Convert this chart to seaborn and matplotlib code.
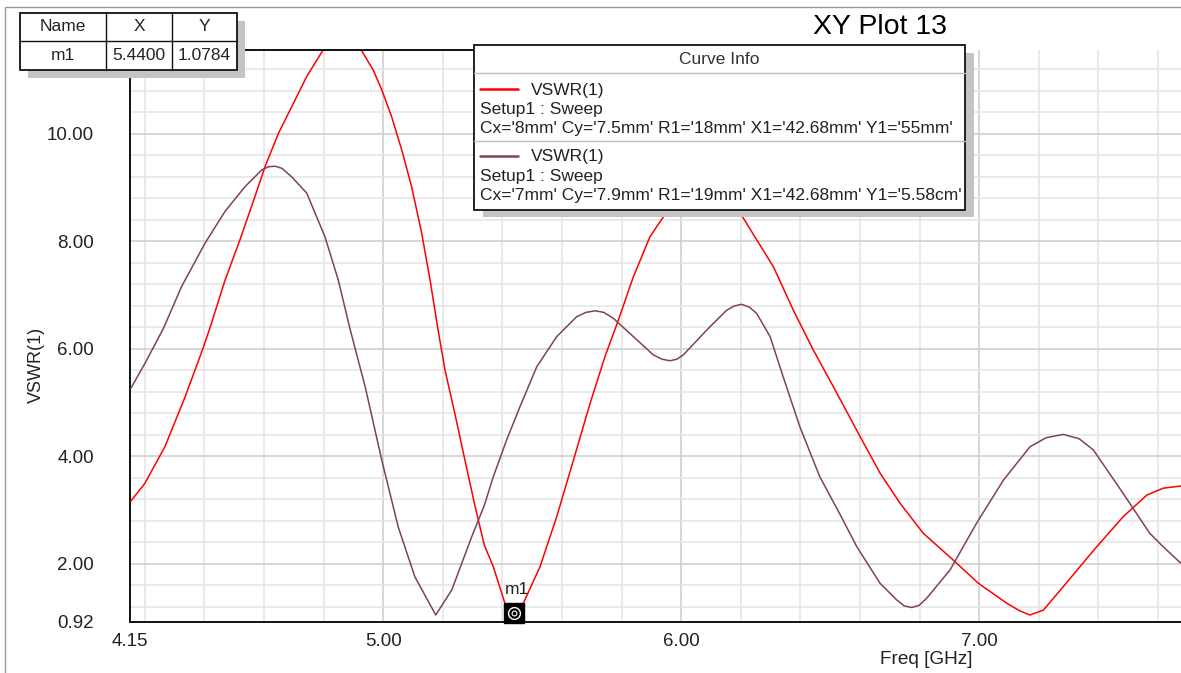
import numpy as np
import pandas as pd
import matplotlib
matplotlib.use("Agg")
import matplotlib.pyplot as plt
from matplotlib.patches import Rectangle
from matplotlib.lines import Line2D
import seaborn as sns

# VSWR(1) sweep, Cx='8mm' Cy='7.5mm' R1='18mm'
freq_a = [4.153, 4.20, 4.267, 4.335, 4.393, 4.42, 4.469, 4.519, 4.569, 4.603, 4.648,
          4.693, 4.743, 4.799, 4.83, 4.862, 4.895, 4.925, 4.966, 4.995, 5.028, 5.062,
          5.095, 5.129, 5.157, 5.183, 5.207, 5.24, 5.274, 5.308, 5.339, 5.369, 5.408,
          5.44, 5.47, 5.526, 5.582, 5.638, 5.694, 5.744, 5.789, 5.839, 5.895, 5.956,
          6.02, 6.073, 6.13, 6.191, 6.253, 6.309, 6.376, 6.443, 6.51, 6.6, 6.667,
          6.734, 6.812, 6.913, 6.997, 7.092, 7.135, 7.17, 7.215, 7.282, 7.394, 7.483,
          7.562, 7.617, 7.677]
vswr_a = [3.17, 3.50, 4.18, 5.11, 5.98, 6.42, 7.28, 8.03, 8.83, 9.39, 10.01,
          10.51, 11.07, 11.57, 11.80, 11.88, 11.80, 11.57, 11.19, 10.82, 10.32, 9.70,
          9.02, 8.15, 7.28, 6.38, 5.61, 4.80, 3.93, 3.07, 2.35, 1.95, 1.27,
          1.0784, 1.27, 1.95, 2.88, 3.93, 4.99, 5.86, 6.54, 7.34, 8.09, 8.59,
          8.95, 9.08, 8.95, 8.59, 8.03, 7.53, 6.72, 5.98, 5.30, 4.37, 3.69,
          3.13, 2.57, 2.07, 1.64, 1.27, 1.13, 1.05, 1.14, 1.58, 2.32, 2.88,
          3.28, 3.41, 3.45]

# VSWR(1) sweep, Cx='7mm' Cy='7.9mm' R1='19mm'
freq_b = [4.153, 4.20, 4.262, 4.323, 4.402, 4.469, 4.536, 4.592, 4.615, 4.637, 4.66,
          4.693, 4.743, 4.804, 4.849, 4.888, 4.939, 4.995, 5.05, 5.106, 5.176, 5.23,
          5.297, 5.339, 5.369, 5.414, 5.459, 5.515, 5.582, 5.649, 5.68, 5.711, 5.74,
          5.772, 5.839, 5.906, 5.935, 5.962, 5.985, 6.007, 6.085, 6.152, 6.178, 6.202,
          6.228, 6.253, 6.298, 6.342, 6.398, 6.465, 6.53, 6.589, 6.667, 6.723, 6.748,
          6.773, 6.798, 6.823, 6.902, 6.991, 7.081, 7.17, 7.225, 7.282, 7.335, 7.383,
          7.483, 7.572, 7.617, 7.677]
vswr_b = [5.27, 5.73, 6.38, 7.16, 7.97, 8.56, 9.02, 9.33, 9.39, 9.40, 9.36,
          9.20, 8.90, 8.09, 7.28, 6.38, 5.30, 3.93, 2.69, 1.76, 1.05, 1.52,
          2.51, 3.09, 3.62, 4.31, 4.93, 5.67, 6.23, 6.60, 6.68, 6.71, 6.68,
          6.57, 6.23, 5.89, 5.81, 5.78, 5.81, 5.89, 6.35, 6.72, 6.80, 6.83,
          6.78, 6.66, 6.23, 5.48, 4.55, 3.62, 2.95, 2.32, 1.64, 1.33, 1.22,
          1.19, 1.23, 1.36, 1.89, 2.76, 3.56, 4.18, 4.35, 4.41, 4.33, 4.12,
          3.31, 2.57, 2.32, 2.01]

series_names = ["A", "B"]
series_colors = ["#ff0000", "#7f4062"]
curve_params = ["Cx='8mm' Cy='7.5mm' R1='18mm' X1='42.68mm' Y1='55mm'",
                "Cx='7mm' Cy='7.9mm' R1='19mm' X1='42.68mm' Y1='5.58cm'"]

marker_name = "m1"
marker_freq = 5.44
marker_vswr = 1.0784

x_major = [4.15, 5.0, 6.0, 7.0]
x_major_labels = ["4.15", "5.00", "6.00", "7.00"]
y_major = [0.92, 2.0, 4.0, 6.0, 8.0, 10.0]
y_major_labels = ["0.92", "2.00", "4.00", "6.00", "8.00", "10.00"]

df = pd.concat([
    pd.DataFrame({"freq": freq_a, "vswr": vswr_a, "curve": series_names[0]}),
    pd.DataFrame({"freq": freq_b, "vswr": vswr_b, "curve": series_names[1]}),
], ignore_index=True)

sns.set_style("white")
plt.rcParams["font.family"] = ["Liberation Sans", "DejaVu Sans"]

W, H = 1181, 673
fig = plt.figure(figsize=(W / 100, H / 100), dpi=100)
fig.patch.set_facecolor("white")


def fx(px):
    return px / W


def fy(py):
    return 1 - py / H


ax_l, ax_r, ax_t, ax_b = 130, 1181, 49.5, 622
ax = fig.add_axes([fx(ax_l), fy(ax_b), fx(ax_r - ax_l), (ax_b - ax_t) / H])
ax.set_facecolor("white")

# grid lines
for gx in np.round(np.arange(4.2, 7.61, 0.2), 2):
    major = gx in (5.0, 6.0, 7.0)
    ax.axvline(gx, color="#cfcfcf" if major else "#e6e6e6", lw=1.2, zorder=0)
for gy in np.round(np.arange(1.2, 11.3, 0.4), 2):
    major = gy in (2.0, 4.0, 6.0, 8.0, 10.0)
    ax.axhline(gy, color="#cfcfcf" if major else "#e6e6e6", lw=1.2, zorder=0)

sns.lineplot(data=df, x="freq", y="vswr", hue="curve", palette=series_colors,
             ax=ax, legend=False, lw=1.1, sort=False, estimator=None, zorder=3)

ax.set_xlim(4.15, 4.15 + (ax_r - ax_l) / 298)
ax.set_ylim(0.92, 0.92 + (ax_b - ax_t) / 53.75)

ax.set_xticks(x_major)
ax.set_xticklabels(x_major_labels)
ax.set_xticks([v for v in np.round(np.arange(4.4, 7.61, 0.2), 2) if v not in x_major], minor=True)
ax.set_yticks(y_major)
ax.set_yticklabels(y_major_labels)
ax.set_yticks([v for v in np.round(np.arange(1.2, 11.3, 0.4), 2) if v not in y_major], minor=True)

ax.tick_params(axis="y", which="major", direction="out", length=18, width=1.4,
               color="#222222", pad=8, labelsize=13.5, labelcolor="#222222")
ax.tick_params(axis="y", which="minor", direction="out", length=9.4, width=1.4, color="#222222")
ax.tick_params(axis="x", which="major", direction="out", length=7.2, width=1.4,
               color="#222222", pad=1, labelsize=13.5, labelcolor="#222222")
ax.tick_params(axis="x", which="minor", direction="out", length=4.4, width=1.4, color="#222222")

for side in ("top", "right"):
    ax.spines[side].set_visible(False)
for side in ("left", "bottom"):
    ax.spines[side].set_color("#111111")
    ax.spines[side].set_linewidth(1.4)
ax.set_xlabel("")
ax.set_ylabel("")

# marker m1
ax.plot([marker_freq], [marker_vswr], marker="s", ms=14.5, mfc="black", mec="black",
        zorder=6, clip_on=False)
ax.plot([marker_freq], [marker_vswr], marker="o", ms=8.5, mfc="none", mec="white",
        mew=1.0, zorder=7, clip_on=False)
ax.plot([marker_freq], [marker_vswr], marker="o", ms=3.5, mfc="none", mec="white",
        mew=0.8, zorder=7, clip_on=False)
ax.annotate(marker_name, (marker_freq, marker_vswr), xytext=(3, 16),
            textcoords="offset pixels", ha="center", va="bottom", fontsize=12.5,
            color="#222222", zorder=7)

# axis titles and plot title
fig.text(fx(36), fy(365), "VSWR(1)", rotation=90, ha="center", va="center",
         fontsize=13, color="#222222")
fig.text(fx(926), fy(660), "Freq [GHz]", ha="center", va="center",
         fontsize=13.7, color="#222222")
fig.text(fx(880), fy(27), "XY Plot 13", ha="center", va="center",
         fontsize=20.5, color="black")

# outer frame
fig.add_artist(Rectangle((fx(5), fy(H + 10)), fx(W + 10), (H + 3) / H, fill=False,
                         ec="#9a9a9a", lw=1.0, transform=fig.transFigure, zorder=1))


def box(x0, y0, x1, y1, **kw):
    r = Rectangle((fx(x0), fy(y1)), fx(x1 - x0), (y1 - y0) / H,
                  transform=fig.transFigure, **kw)
    fig.add_artist(r)


def hline(x0, x1, y, color, lw, z=12):
    fig.add_artist(Line2D([fx(x0), fx(x1)], [fy(y), fy(y)], color=color, lw=lw,
                          transform=fig.transFigure, zorder=z))


# plot-area top edge between the marker table and the legend
hline(ax_l, 474, ax_t, "#111111", 1.4, z=2)

# marker table
tx0, tx1, tx2, tx3 = 20, 106, 172, 237
ty0, ty1, ty2 = 12.7, 40.7, 70
box(tx0 + 8, ty0 + 8, tx3 + 8, ty2 + 8, fc="#c4c4c4", ec="none", zorder=10)
box(tx0, ty0, tx3, ty2, fc="white", ec="#111111", lw=1.3, zorder=11)
hline(tx0, tx3, ty1, "#111111", 1.0)
for cx in (tx1, tx2):
    fig.add_artist(Line2D([fx(cx), fx(cx)], [fy(ty0), fy(ty2)], color="#111111", lw=1.0,
                          transform=fig.transFigure, zorder=12))
header_cells = ["Name", "X", "Y"]
value_cells = [marker_name, f"{marker_freq:.4f}", f"{marker_vswr:.4f}"]
col_centers = [(tx0 + tx1) / 2, (tx1 + tx2) / 2, (tx2 + tx3) / 2]
for c, h, v in zip(col_centers, header_cells, value_cells):
    fig.text(fx(c), fy((ty0 + ty1) / 2), h, ha="center", va="center", fontsize=12.5,
             color="#222222", zorder=13)
    fig.text(fx(c), fy((ty1 + ty2) / 2), v, ha="center", va="center", fontsize=12.5,
             color="#222222", zorder=13)

# curve info legend
lx0, lx1, ly0, ly1 = 474, 965, 44.7, 210
box(lx0 + 9, ly0 + 8, lx1 + 9, ly1 + 7, fc="#c4c4c4", ec="none", zorder=10)
box(lx0, ly0, lx1, ly1, fc="white", ec="#111111", lw=1.3, zorder=11)
hline(lx0, lx1, 73.3, "#bdbdbd", 1.0)
hline(lx0, lx1, 140.7, "#bdbdbd", 1.0)
fig.text(fx((lx0 + lx1) / 2), fy(60), "Curve Info", ha="center", va="center",
         fontsize=12.5, color="#333333", zorder=13)
entry_tops = [90, 157]
for top, col, params in zip(entry_tops, series_colors, curve_params):
    fig.add_artist(Line2D([fx(480), fx(518)], [fy(top - 1.5), fy(top - 1.5)], color=col,
                          lw=1.8, transform=fig.transFigure, zorder=12))
    fig.text(fx(531), fy(top), "VSWR(1)", ha="left", va="center", fontsize=12.5,
             color="#222222", zorder=13)
    fig.text(fx(480), fy(top + 19.5), "Setup1 : Sweep", ha="left", va="center",
             fontsize=12.5, color="#222222", zorder=13)
    fig.text(fx(480), fy(top + 38.5), params, ha="left", va="center",
             fontsize=12.5, color="#222222", zorder=13)

fig.savefig("out.png", dpi=100, facecolor="white")
